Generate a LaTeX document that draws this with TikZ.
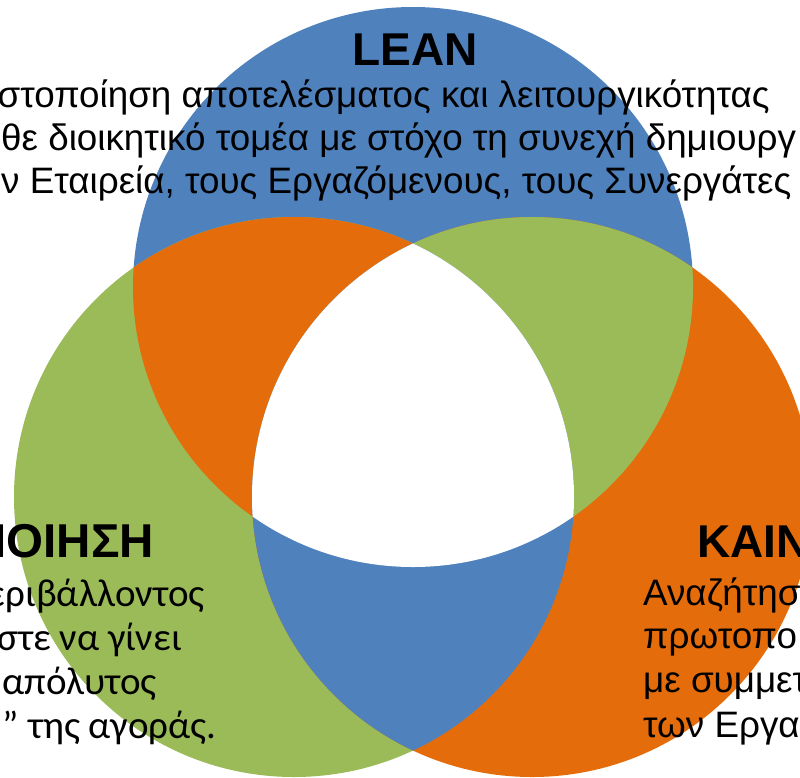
\documentclass[tikz,border=0pt]{standalone}
\usepackage{fontspec}
\setmainfont{Liberation Sans}
\newfontfamily\calibrifont{Carlito}
\definecolor{leanblue}{HTML}{4F81BD}
\definecolor{leangreen}{HTML}{9BBB59}
\definecolor{leanorange}{HTML}{E46C0A}

\begin{document}
\begin{tikzpicture}[x=1pt, y=-1pt, % 像素坐标,y 向下
  titletext/.style={font=\fontsize{46}{52}\selectfont\bfseries, inner sep=0pt},
  bodytext/.style={font=\fontsize{36.8}{44}\selectfont, inner sep=0pt},
  bodycal/.style={font=\calibrifont\fontsize{39}{45}\selectfont, inner sep=0pt}]
\useasboundingbox (0,0) rectangle (800,777);
\clip (0,0) rectangle (800,777); % 画面裁切
% 三个圆心
\coordinate (ctop) at (413,287);
\coordinate (cleft) at (294,497);
\coordinate (cright) at (532,497);
% 单圆底色
\fill[leanblue] (ctop) circle[radius=280pt];
\fill[leangreen] (cleft) circle[radius=280pt];
\fill[leanorange] (cright) circle[radius=280pt];
% 两两相交区取第三色
\begin{scope}
  \clip (ctop) circle[radius=280pt];
  \fill[leanorange] (cleft) circle[radius=280pt]; % 上∩左
  \fill[leangreen] (cright) circle[radius=280pt]; % 上∩右
\end{scope}
\begin{scope}
  \clip (cleft) circle[radius=280pt];
  \fill[leanblue] (cright) circle[radius=280pt]; % 左∩右
  \clip (ctop) circle[radius=280pt];
  \fill[white] (cright) circle[radius=280pt];    % 三圆公共部分
\end{scope}
% 上方文字
\node[titletext, anchor=base] (leantitle) at (415,65) {LEAN};
\node[bodytext, anchor=base east] (lean1) at (770,107) {στοποίηση αποτελέσματος και λειτουργικότητας};
\node[bodytext, anchor=base west] (lean2) at (1,150) {θε διοικητικό τομέα με στόχο τη συνεχή δημιουργ};
\node[bodytext, anchor=base west] (lean3) at (1,193) {ν Εταιρεία, τους Εργαζόμενους, τους Συνεργάτες};
% 左下文字
\node[titletext, font=\fontsize{47.5}{52}\selectfont\bfseries, anchor=base east] (lefttitle) at (154,557) {ΙΟΙΗΣΗ};
\node[bodycal, anchor=base east] (left1) at (205,606) {εριβάλλοντος};
\node[bodycal, anchor=base east] (left2) at (182,650) {στε να γίνει};
\node[bodycal, anchor=base east] (left3) at (157,694) {απόλυτος};
\node[bodycal, anchor=base east] (left4) at (217,738) {” της αγοράς.};
% 右下文字
\node[titletext, anchor=base west] (righttitle) at (697,557) {ΚΑΙΝ};
\node[bodytext, anchor=base west] (right1) at (643,605) {Αναζήτησ};
\node[bodytext, anchor=base west] (right2) at (643,648) {πρωτοπο};
\node[bodytext, anchor=base west] (right3) at (643,692) {με συμμετ};
\node[bodytext, anchor=base west] (right4) at (643,737) {των Εργα};
\end{tikzpicture}
\end{document}
